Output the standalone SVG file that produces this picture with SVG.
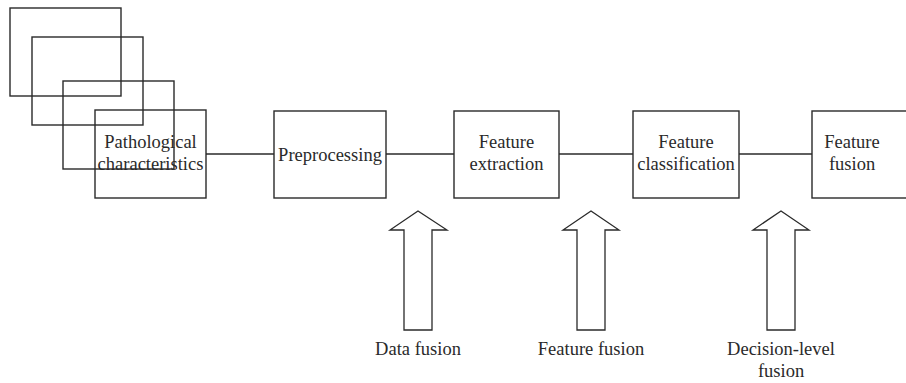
<svg xmlns="http://www.w3.org/2000/svg" width="906" height="383" viewBox="0 0 906 383" font-family="'Liberation Serif', 'Times New Roman', serif">
<style>
.box{fill:none;stroke:#2a2a2a;stroke-width:1.4}
.con{stroke:#2a2a2a;stroke-width:1.3;fill:none}
.arr{fill:#fff;stroke:#2a2a2a;stroke-width:1.3;stroke-linejoin:miter}
text{font-family:'Liberation Serif','Times New Roman',serif;font-size:18.5px;fill:#2a2a2a;text-anchor:middle}
</style>
<rect width="906" height="383" fill="#fff"/>
<g id="stack">
<rect class="box" x="10" y="8" width="111" height="88"/>
<rect class="box" x="32" y="37" width="111" height="88"/>
<rect class="box" x="63" y="81" width="111" height="88"/>
</g>
<g id="connectors">
<line class="con" x1="206" y1="154" x2="274" y2="154"/>
<line class="con" x1="386" y1="154" x2="454" y2="154"/>
<line class="con" x1="559" y1="154" x2="633" y2="154"/>
<line class="con" x1="739" y1="154" x2="812" y2="154"/>
</g>
<g id="pathological">
<rect class="box" x="95" y="110" width="111" height="88"/>
<text x="150.5" y="148">Pathological</text>
<text x="150.5" y="170">characteristics</text>
</g>
<g id="preprocessing">
<rect class="box" x="274" y="111" width="112" height="87"/>
<text x="330" y="161">Preprocessing</text>
</g>
<g id="extraction">
<rect class="box" x="454" y="111" width="105" height="87"/>
<text x="506.5" y="148">Feature</text>
<text x="506.5" y="170">extraction</text>
</g>
<g id="classification">
<rect class="box" x="633" y="111" width="106" height="87"/>
<text x="686" y="148">Feature</text>
<text x="686" y="170">classification</text>
</g>
<g id="fusion">
<rect class="box" x="812" y="111" width="100" height="87"/>
<text x="852" y="148">Feature</text>
<text x="852" y="170">fusion</text>
</g>
<g id="data-fusion">
<polygon class="arr" points="418,211 447,230 432,230 432,330 404,330 404,230 390,230"/>
<text x="418" y="355">Data fusion</text>
</g>
<g id="feature-fusion">
<polygon class="arr" points="591,211 619,230 605,230 605,330 577,330 577,230 563,230"/>
<text x="591" y="355">Feature fusion</text>
</g>
<g id="decision-fusion">
<polygon class="arr" points="781,211 809,230 795,230 795,330 767,330 767,230 753,230"/>
<text x="781" y="355">Decision-level</text>
<text x="781" y="377">fusion</text>
</g>
</svg>
